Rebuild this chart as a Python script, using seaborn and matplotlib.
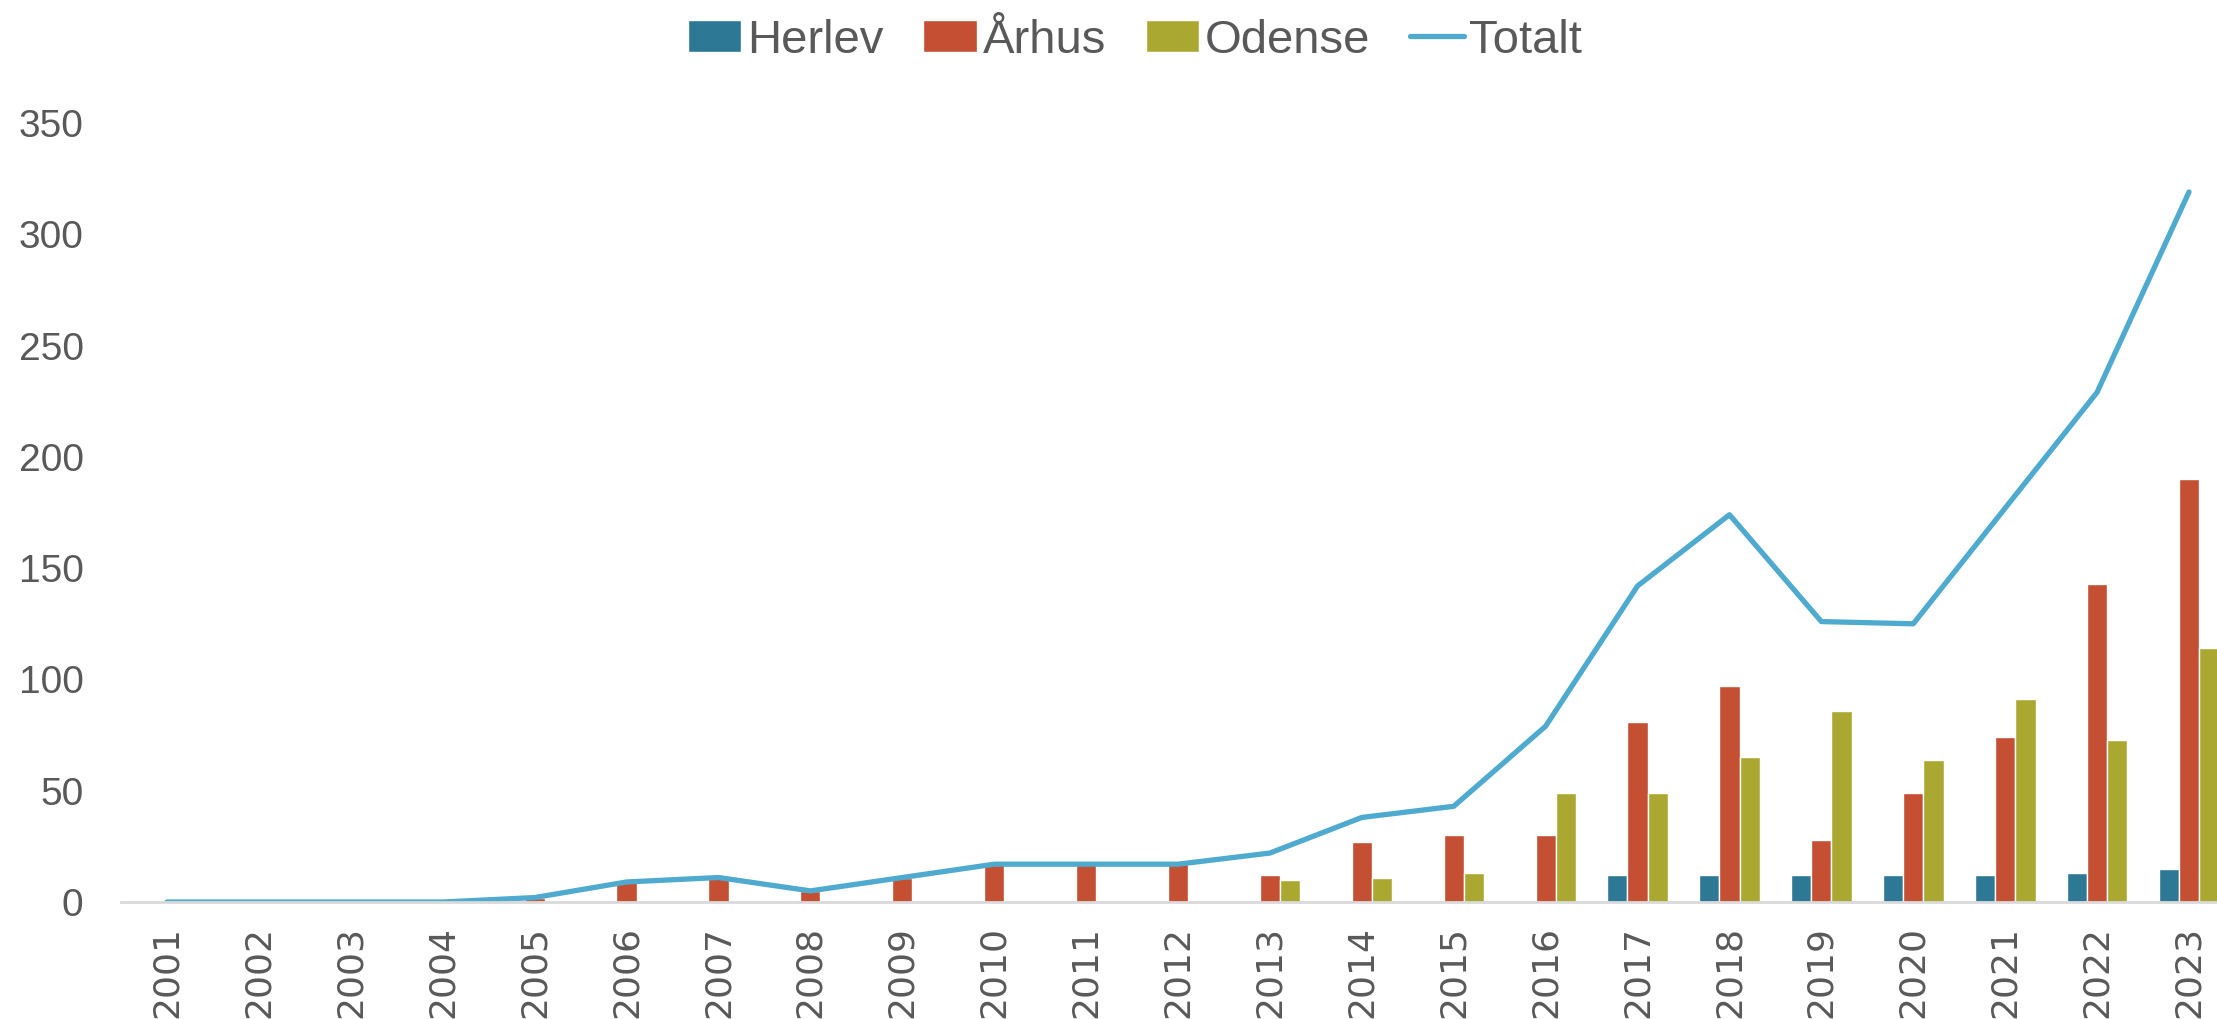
import numpy as np
import pandas as pd
import matplotlib.pyplot as plt
import seaborn as sns
from matplotlib.patches import Patch
from matplotlib.lines import Line2D

# data
years = [str(y) for y in range(2001, 2024)]
herlev = [0, 0, 0, 0, 0, 0, 0, 0, 0, 0, 0, 0, 0, 0, 0, 0, 12, 12, 12, 12, 12, 13, 15]
aarhus = [0, 0, 0, 0, 2, 9, 11, 5, 11, 17, 17, 17, 12, 27, 30, 30, 81, 97, 28, 49, 74, 143, 190]
odense = [0, 0, 0, 0, 0, 0, 0, 0, 0, 0, 0, 0, 10, 11, 13, 49, 49, 65, 86, 64, 91, 73, 114]
totalt = [0, 0, 0, 0, 2, 9, 11, 5, 11, 17, 17, 17, 22, 38, 43, 79, 142, 174, 126, 125, 177, 229, 319]

series = ['Herlev', 'Århus', 'Odense']
colors = {'Herlev': '#2D7895', 'Århus': '#C44F33', 'Odense': '#ABA832'}
line_color = '#4FAAD0'
text_color = '#595959'

df = pd.DataFrame({
    'year': years * 3,
    'value': herlev + aarhus + odense,
    'series': ['Herlev'] * len(years) + ['Århus'] * len(years) + ['Odense'] * len(years),
})

sns.set_style('white')
plt.rcParams['font.family'] = ['Liberation Sans', 'DejaVu Sans']

fig = plt.figure(figsize=(22.17, 10.19), dpi=100)
ax = fig.add_axes([0.0546, 0.1148, 0.9535, 0.7645])

sns.barplot(data=df, x='year', y='value', hue='series', hue_order=series,
            palette=colors, width=0.66, saturation=1, legend=False, ax=ax)
sns.lineplot(x=np.arange(len(years)), y=totalt, color=line_color, linewidth=3.8,
             legend=False, ax=ax, solid_capstyle='round')

ax.set_xlim(-0.5, len(years) - 0.5)
ax.set_ylim(0, 350)
ax.set_yticks(range(0, 351, 50))
ax.set_xticks(range(len(years)))
ax.set_xticklabels(years, rotation=90, fontsize=26, color=text_color, family='DejaVu Sans')
ax.tick_params(axis='y', labelsize=28, labelcolor=text_color, length=0, pad=27)
ax.tick_params(axis='x', length=0, pad=17)
ax.set_xlabel('')
ax.set_ylabel('')

for side in ['top', 'right', 'left']:
    ax.spines[side].set_visible(False)
ax.spines['bottom'].set_color('#D9D9D9')
ax.spines['bottom'].set_linewidth(2)

handles = [Patch(facecolor=colors[s], label=s) for s in series]
handles.append(Line2D([0], [0], color=line_color, linewidth=3.8, label='Totalt'))
fig.legend(handles=handles, loc='center', bbox_to_anchor=(0.512, 0.960), ncol=4,
           frameon=False, fontsize=34, labelcolor=text_color, handlelength=1.13,
           handleheight=0.68, handletextpad=0.12, columnspacing=0.85)

fig.savefig('out.png', dpi=100)
